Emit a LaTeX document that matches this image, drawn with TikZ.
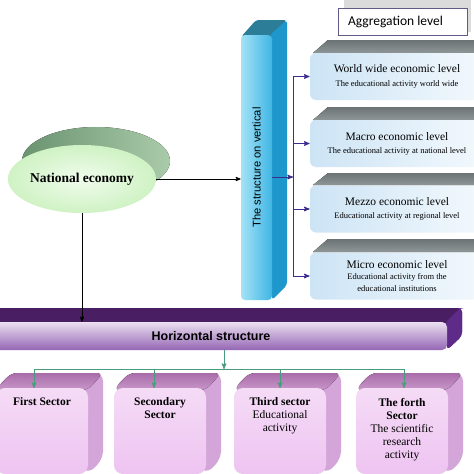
\documentclass[tikz,border=0pt]{standalone}
\usepackage{fontspec}
\setmainfont{Liberation Serif}
\setsansfont{Liberation Sans}
\newfontfamily\aggfont{Carlito}
\usetikzlibrary{%
  arrows,%
  shapes,% wg. ellipse
  positioning%
}
\definecolor{natdark}{HTML}{6A9370}
\definecolor{natlight}{HTML}{AACBAA}
\definecolor{mint}{HTML}{CFF2C4}
\definecolor{mintlight}{HTML}{F0FCEC}
\definecolor{cyanlight}{HTML}{A4E2F7}
\definecolor{cyandark}{HTML}{3FB6E4}
\definecolor{cyantop}{HTML}{2C7E98}
\definecolor{cyanside}{HTML}{1E98CC}
\definecolor{levelblue}{HTML}{CDE4F5}
\definecolor{levelwhite}{HTML}{F3F9FD}
\definecolor{levelgraytop}{HTML}{6C7375}
\definecolor{levelgraybot}{HTML}{8E9698}
\definecolor{navy}{HTML}{3A2D8C}
\definecolor{aggline}{HTML}{625A86}
\definecolor{plumdark}{HTML}{4A1E62}
\definecolor{plumside}{HTML}{5E2B88}
\definecolor{plumlight}{HTML}{EBDFF1}
\definecolor{plummid}{HTML}{9466B4}
\definecolor{sectortopc}{HTML}{A86DA9}
\definecolor{sectortopl}{HTML}{C996CA}
\definecolor{sectorside}{HTML}{D3A5D8}
\definecolor{sectorfront}{HTML}{F5DBF6}
\definecolor{sectorfrontb}{HTML}{EEC4F1}
\definecolor{busgreen}{HTML}{4A9C7F}

\begin{document}
\begin{tikzpicture}
[x=1pt, y=-1pt, line width=0.8pt, >=stealth',
national/.style={ellipse, inner sep=0pt, minimum width=148pt, minimum height=68pt, inner color=mintlight, outer color=mint, font=\fontsize{13.5}{15}\selectfont\bfseries},
vertical/.style={rectangle, inner sep=0pt, minimum width=31pt, minimum height=265pt, rounded corners=4pt, left color=cyanlight, right color=cyandark, font=\sffamily\fontsize{11.2}{13}\selectfont},
level/.style={rectangle, inner sep=0pt, minimum width=174pt, minimum height=47pt, rounded corners=6pt, left color=levelblue, right color=levelwhite, align=center, font=\fontsize{11.5}{13}\selectfont},
bevel/.style={top color=levelgraytop, bottom color=levelgraybot},
aggregation/.style={rectangle, draw=aggline, line width=0.9pt, fill=white, inner sep=0pt, minimum width=129pt, minimum height=27pt, font=\aggfont\fontsize{13.5}{15}\selectfont},
horizontal/.style={rectangle, inner sep=0pt, minimum width=472pt, minimum height=28pt, rounded corners=5pt, top color=plumlight, bottom color=plummid, font=\sffamily\bfseries\fontsize{12.5}{14}\selectfont},
sector/.style={rectangle, inner sep=0pt, minimum width=92pt, minimum height=86pt, rounded corners=9pt, top color=sectorfront, bottom color=sectorfrontb, font=\fontsize{11.5}{13}\selectfont},
sectorback/.style={rounded corners=8pt, fill=sectorside},
sectortop/.style={rounded corners=6pt, top color=sectortopc, bottom color=sectortopl},
blackarrow/.style={draw=black, ->},
navyarrow/.style={draw=navy, line width=1pt, ->},
greenarrow/.style={draw=busgreen, line width=1pt, ->}]

\useasboundingbox (0,0) rectangle (474,474);
\clip (0,0) rectangle (474,474);
\fill[white] (0,0) rectangle (474,474);

% aggregation level
\fill[gray!28] (344,-2) rectangle (471,32);
\node[aggregation] (agg) at (402.5,21.5) {\hspace*{-14pt}Aggregation level};

% national economy
\fill[left color=natdark, right color=natlight] (96,161) ellipse [x radius=74, y radius=34];
\node[national] (nat) at (82,179) {National economy};

% vertical structure
\fill[cyantop, rounded corners=3pt] (241,37) -- (256,20) -- (287,20) -- (272,37) -- cycle;
\fill[cyanside, rounded corners=3pt] (270,35) -- (287,20) -- (287,285) -- (272,300) -- cycle;
\node[vertical] (vbar) at (256.5,167.5) {\rotatebox{90}{The structure on vertical}};

% levels
\fill[bevel] (313,53) -- (328,40) -- (480,40) -- (480,53) -- cycle;
\node[level] (lv1) at (397,76.5) {World wide economic level\\[1pt] {\fontsize{8.5}{10}\selectfont The educational activity world wide}};
\fill[bevel] (313,120) -- (328,107) -- (480,107) -- (480,120) -- cycle;
\node[level] (lv2) at (397,143.5) {Macro economic level\\ {\fontsize{8.5}{10}\selectfont The educational activity at national level}};
\fill[bevel] (313,185) -- (328,173) -- (480,173) -- (480,185) -- cycle;
\node[level] (lv3) at (397,209) {Mezzo economic level\\ {\fontsize{8.5}{10}\selectfont Educational activity at regional level}};
\fill[bevel] (313,252) -- (328,239) -- (480,239) -- (480,252) -- cycle;
\node[level] (lv4) at (397,276) {Micro economic level\\[-1.5pt] {\fontsize{8.5}{10}\selectfont Educational activity from the}\\[-1.5pt] {\fontsize{8.5}{10}\selectfont educational institutions}};

\coordinate (trunk) at (293,177);
\draw[navy, line width=1pt] (trunk |- lv1.west) -- (trunk |- lv4.west);
\draw[navyarrow] (vbar.east |- trunk) -- (trunk);
\draw[navyarrow] (trunk |- lv1.west) -- (lv1.west);
\draw[navyarrow] (trunk |- lv2.west) -- (lv2.west);
\draw[navyarrow] (trunk |- lv3.west) -- (lv3.west);
\draw[navyarrow] (trunk |- lv4.west) -- (lv4.west);

% horizontal structure
\fill[plumdark, rounded corners=4pt] (-20,323) -- (-5,308) -- (462,308) -- (462,336) -- (447,350) -- (447,323) -- cycle;
\fill[plumside, rounded corners=4pt] (445,323) -- (460,308) -- (462,308) -- (462,336) -- (447,350) -- cycle;
\node[horizontal] (hbar) at (211,336) {Horizontal structure};

\draw[blackarrow] (nat.east) -- (vbar.west |- nat.east);
\draw[blackarrow] (nat.south) -- (nat.south |- hbar.north);

% sectors
\fill[sectorback] (-4,388) -- (11,373) -- (103,373) -- (103,459) -- (88,474) -- cycle;
\fill[sectortop] (-4,390) -- (11,373) -- (103,373) -- (88,390) -- cycle;
\node[sector] (s1) at (42,431) {\parbox[c][86pt][t]{88pt}{\centering\vspace*{10pt}\textbf{First Sector}}};
\fill[sectorback] (114,388) -- (129,373) -- (221,373) -- (221,459) -- (206,474) -- cycle;
\fill[sectortop] (114,390) -- (129,373) -- (221,373) -- (206,390) -- cycle;
\node[sector] (s2) at (160,431) {\parbox[c][86pt][t]{88pt}{\centering\vspace*{10pt}\textbf{Secondary\\ Sector}}};
\fill[sectorback] (234,388) -- (249,373) -- (341,373) -- (341,459) -- (326,474) -- cycle;
\fill[sectortop] (234,390) -- (249,373) -- (341,373) -- (326,390) -- cycle;
\node[sector] (s3) at (280,431) {\parbox[c][86pt][t]{88pt}{\centering\vspace*{10pt}\textbf{Third sector}\\ Educational\\ activity}};
\fill[sectorback] (356,388) -- (371,373) -- (463,373) -- (463,459) -- (448,474) -- cycle;
\fill[sectortop] (356,390) -- (371,373) -- (463,373) -- (448,390) -- cycle;
\node[sector] (s4) at (402,431) {\parbox[c][86pt][t]{88pt}{\centering\vspace*{10pt}\textbf{The forth\\ Sector}\\ The scientific\\ research\\ activity}};

\coordinate (bus) at (224,369);
\coordinate (t1) at (34,388);
\coordinate (t2) at (154,388);
\coordinate (t3) at (280,388);
\coordinate (t4) at (404,388);
\draw[greenarrow] (bus |- hbar.south) -- (bus);
\draw[busgreen, line width=1pt] (t1 |- bus) -- (t4 |- bus);
\draw[greenarrow] (t1 |- bus) -- (t1);
\draw[greenarrow] (t2 |- bus) -- (t2);
\draw[greenarrow] (t3 |- bus) -- (t3);
\draw[greenarrow] (t4 |- bus) -- (t4);
\end{tikzpicture}
\end{document}
